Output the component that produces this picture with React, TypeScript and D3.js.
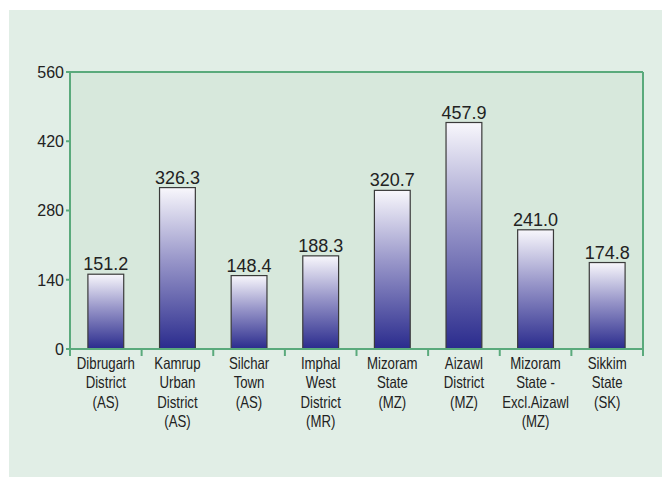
import React from "react";
import * as d3 from "d3";

const categories: string[][] = [
  ["Dibrugarh", "District", "(AS)"],
  ["Kamrup", "Urban", "District", "(AS)"],
  ["Silchar", "Town", "(AS)"],
  ["Imphal", "West", "District", "(MR)"],
  ["Mizoram", "State", "(MZ)"],
  ["Aizawl", "District", "(MZ)"],
  ["Mizoram", "State -", "Excl.Aizawl", "(MZ)"],
  ["Sikkim", "State", "(SK)"],
];
const values: number[] = [151.2, 326.3, 148.4, 188.3, 320.7, 457.9, 241.0, 174.8];
const yTicks: number[] = [0, 140, 280, 420, 560];

const W = 662;
const H = 477;
const left = 70;
const right = 643;
const top = 72;
const bottom = 349;

export default function App() {
  const ids = categories.map((_, i) => String(i));
  const x = d3.scaleBand<string>().domain(ids).range([left, right]).paddingInner(0.5).paddingOuter(0.25);
  const y = d3.scaleLinear().domain([0, 560]).range([bottom, top]);
  const step = x.step();
  const boundaries = d3.range(categories.length + 1).map((i) => left + i * step);
  const regular = "'Liberation Sans', Arial, sans-serif";
  const axisColor = "#5aaa7c";

  return (
    <svg width={W} height={H} style={{ position: "absolute", left: 0, top: 0, display: "block" }}>
      <defs>
        <linearGradient id="barGrad" x1="0" y1="0" x2="0" y2="1">
          <stop offset="0%" stopColor="#f8f7fc" />
          <stop offset="45%" stopColor="#9896c9" />
          <stop offset="100%" stopColor="#2a2b8d" />
        </linearGradient>
      </defs>
      <rect x={9} y={10} width={W - 9} height={H - 10} fill="#e1eee6" />
      <rect x={left} y={top} width={right - left} height={bottom - top} fill="#d7e8dc" />
      {values.map((v, i) => (
        <g key={i}>
          <rect
            x={x(String(i))}
            y={y(v)}
            width={x.bandwidth()}
            height={bottom - y(v)}
            fill="url(#barGrad)"
            stroke="#3a3a3a"
            strokeWidth={1.2}
          />
          <text
            x={(x(String(i)) as number) + x.bandwidth() / 2}
            y={y(v) - 4}
            textAnchor="middle"
            fontFamily={regular}
            fontSize={18}
            fill="#222"
          >
            {v.toFixed(1)}
          </text>
        </g>
      ))}
      <line x1={left} y1={top} x2={right} y2={top} stroke={axisColor} strokeWidth={2} />
      <line x1={right} y1={top} x2={right} y2={bottom} stroke={axisColor} strokeWidth={2} />
      <line x1={left} y1={top} x2={left} y2={bottom + 7} stroke={axisColor} strokeWidth={2} />
      <line x1={left - 4} y1={bottom} x2={right} y2={bottom} stroke={axisColor} strokeWidth={2} />
      {boundaries.map((bx, i) => (
        <line key={i} x1={bx} y1={bottom} x2={bx} y2={bottom + 7} stroke={axisColor} strokeWidth={2} />
      ))}
      {yTicks.map((t) => (
        <g key={t}>
          <line x1={left - 4} y1={y(t)} x2={left} y2={y(t)} stroke={axisColor} strokeWidth={2} />
          <text
            x={left - 6}
            y={y(t)}
            dy="0.36em"
            textAnchor="end"
            fontFamily={regular}
            fontSize={16}
            fill="#222"
          >
            {t}
          </text>
        </g>
      ))}
      {categories.map((lines, i) => {
        const cx = (x(String(i)) as number) + x.bandwidth() / 2;
        return (
          <text
            key={i}
            transform={`translate(${cx},369) scale(0.8,1)`}
            textAnchor="middle"
            fontFamily={regular}
            fontSize={16.5}
            fill="#222"
          >
            {lines.map((l, j) => (
              <tspan key={j} x={0} dy={j === 0 ? 0 : 19.3}>
                {l}
              </tspan>
            ))}
          </text>
        );
      })}
    </svg>
  );
}
